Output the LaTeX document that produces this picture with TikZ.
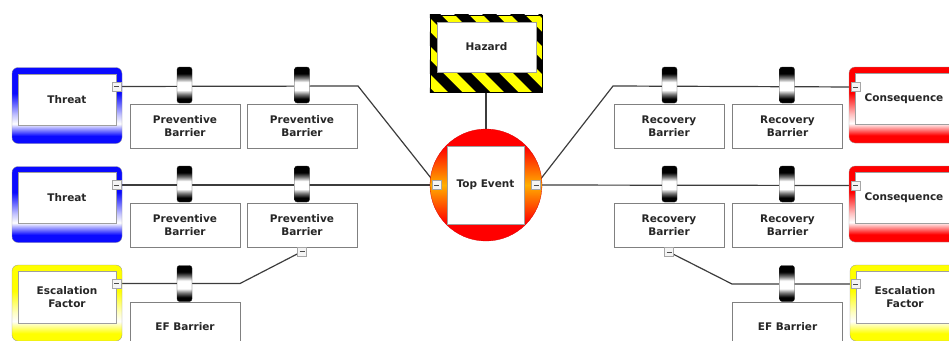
\documentclass[tikz,border=0pt]{standalone}
\usepackage{fontspec}
\setmainfont{DejaVu Sans}
\usetikzlibrary{backgrounds}
\definecolor{tblue}{RGB}{10,10,255}
\definecolor{tred}{RGB}{255,0,0}
\definecolor{tyel}{RGB}{255,255,0}
\definecolor{torange}{RGB}{255,175,0}
\definecolor{lineg}{RGB}{60,60,60}
\pgfdeclareverticalshading{bluesh}{100bp}{color(0bp)=(tblue); color(30bp)=(tblue); color(38bp)=(white); color(44bp)=(tblue!25!white); color(58bp)=(tblue); color(100bp)=(tblue)}
\pgfdeclareverticalshading{redsh}{100bp}{color(0bp)=(tred); color(30bp)=(tred); color(38bp)=(white); color(44bp)=(tred!25!white); color(58bp)=(tred); color(100bp)=(tred)}
\pgfdeclareverticalshading{yelsh}{100bp}{color(0bp)=(tyel); color(30bp)=(tyel); color(38bp)=(white); color(44bp)=(tyel!25!white); color(58bp)=(tyel); color(100bp)=(tyel)}
\pgfdeclareverticalshading{cylsh}{100bp}{color(0bp)=(black); color(31bp)=(black); color(37bp)=(black!55); color(43bp)=(white); color(54bp)=(white); color(60bp)=(black!55); color(66bp)=(black); color(100bp)=(black)}
\pgfdeclareverticalshading{tesh}{100bp}{color(0bp)=(tred); color(33bp)=(tred); color(50bp)=(torange); color(67bp)=(tred); color(100bp)=(tred)}
\begin{document}
\begin{tikzpicture}[x=1pt,y=-1pt,
  lbl/.style={font=\fontsize{10.5}{13}\selectfont\bfseries, align=center, text=black!85},
  outerbox/.style={minimum width=110pt, minimum height=76pt, rounded corners=6pt, inner sep=0pt, shading=#1, draw=black!40, line width=0.3pt},
  innerbox/.style={lbl, fill=white, draw=gray!75, minimum width=98pt, minimum height=51pt, inner sep=0pt, line width=0.5pt},
  barbox/.style={lbl, fill=white, draw=gray, minimum width=110pt, minimum height=44pt, inner sep=0pt, line width=0.6pt},
  cyl/.style={shading=cylsh, minimum width=15pt, minimum height=36pt, rounded corners=2.5pt, inner sep=0pt, draw=black!80, line width=0.3pt},
  minusbox/.style={draw=gray!70, fill=gray!8, minimum size=9pt, inner sep=0pt, line width=0.5pt,
    path picture={\draw[gray!60!black, line width=0.6pt] ([xshift=-2.5pt]path picture bounding box.center) -- ([xshift=2.5pt]path picture bounding box.center);}},
  conn/.style={draw=lineg, line width=1.2pt}
]
\useasboundingbox (0,0) rectangle (949,340);

% ---------- Hazard ----------
\node[minimum width=112pt, minimum height=77pt, inner sep=0pt] (hazard) at (486,53.5) {};
\fill[tyel] (hazard.north west) rectangle (hazard.south east);
\begin{scope}
  \clip (hazard.north west) rectangle (hazard.south east);
  \foreach \x in {307,335,...,531} \draw[black, line width=9.9pt] (\x,0) -- ++(110,110);
\end{scope}
\draw[black, line width=0.6pt] (hazard.north west) rectangle (hazard.south east);
\node[innerbox, minimum width=99pt, minimum height=50pt] (hazin) at (486.5,47) {Hazard};

% ---------- Top event ----------
\node[circle, minimum size=112pt, inner sep=0pt, shading=tesh, draw=red!85!black, line width=0.3pt] (te) at (486,185) {};
\node[innerbox, minimum width=77pt, minimum height=78pt] (tein) at (485.5,185) {Top Event};
\node[minusbox] (tel) at (436.5,185) {};
\node[minusbox] (ter) at (536,185) {};

% ---------- Left: threats ----------
\node[outerbox=bluesh] (t1) at (67,105.5) {};
\node[innerbox] (t1in) at (67,99.5) {Threat};
\node[minusbox] (t1m) at (116.5,86.5) {};
\node[outerbox=bluesh] (t2) at (67,204.5) {};
\node[innerbox] (t2in) at (67,197.5) {Threat};
\node[minusbox] (t2m) at (116.5,185) {};
\node[outerbox=yelsh] (e1) at (67,303) {};
\node[innerbox, minimum height=52pt] (e1in) at (67,297) {Escalation\\Factor};
\node[minusbox] (e1m) at (116.5,283.5) {};

% left barriers
\node[barbox] (pb11) at (185,126) {Preventive\\Barrier};
\node[barbox] (pb12) at (302,126) {Preventive\\Barrier};
\node[barbox] (pb21) at (185,225) {Preventive\\Barrier};
\node[barbox] (pb22) at (302,225) {Preventive\\Barrier};
\node[barbox, minimum height=46pt, anchor=north] (efl) at (185,302) {\raisebox{-10pt}{EF Barrier}};
\node[minusbox] (pb22m) at (302,251.5) {};
\node[cyl] (c11) at (184.5,85) {};
\node[cyl] (c12) at (302,85) {};
\node[cyl] (c21) at (184.5,184) {};
\node[cyl] (c22) at (302,184) {};
\node[cyl] (c31) at (184.5,283.5) {};

% ---------- Right: consequences ----------
\node[outerbox=redsh] (q1) at (904,105) {};
\node[innerbox] (q1in) at (904,98.5) {Consequence};
\node[minusbox] (q1m) at (855.5,87) {};
\node[outerbox=redsh] (q2) at (904,204) {};
\node[innerbox] (q2in) at (904,197.5) {Consequence};
\node[minusbox] (q2m) at (855.5,185.5) {};
\node[outerbox=yelsh] (e2) at (905,303) {};
\node[innerbox, minimum height=52pt] (e2in) at (905,297) {Escalation\\Factor};
\node[minusbox] (e2m) at (855.5,284) {};

% right barriers
\node[barbox] (rb11) at (669,126) {Recovery\\Barrier};
\node[barbox] (rb12) at (787.5,126) {Recovery\\Barrier};
\node[barbox] (rb21) at (669,225) {Recovery\\Barrier};
\node[barbox] (rb22) at (787.5,225) {Recovery\\Barrier};
\node[barbox, minimum height=46pt, anchor=north] (efr) at (787.5,302) {\raisebox{-10pt}{EF Barrier}};
\node[minusbox] (rb21m) at (669,252) {};
\node[cyl] (d11) at (669.5,85) {};
\node[cyl] (d12) at (787,85) {};
\node[cyl] (d21) at (669.5,184) {};
\node[cyl] (d22) at (787,184) {};
\node[cyl] (d31) at (787,283.5) {};

% ---------- connectors ----------
\coordinate (bl1) at (358,86);
\coordinate (br1) at (613,86);
\coordinate (bl3) at (240,283.5);
\coordinate (br3) at (732,284);
\begin{scope}[on background layer]
  \draw[conn] (hazard.south) -- (te.north);
  \draw[conn] (t1m.center) -- (bl1) -- (tel.center);
  \draw[conn] (t2m.center) -- (tel.center);
  \draw[conn] (e1m.center) -- (bl3) -- (pb22m.center);
  \draw[conn] (ter.center) -- (br1) -- (q1m.center);
  \draw[conn] (ter.center) -- (q2m.center);
  \draw[conn] (rb21m.center) -- (br3) -- (e2m.center);
\end{scope}
\end{tikzpicture}
\end{document}
